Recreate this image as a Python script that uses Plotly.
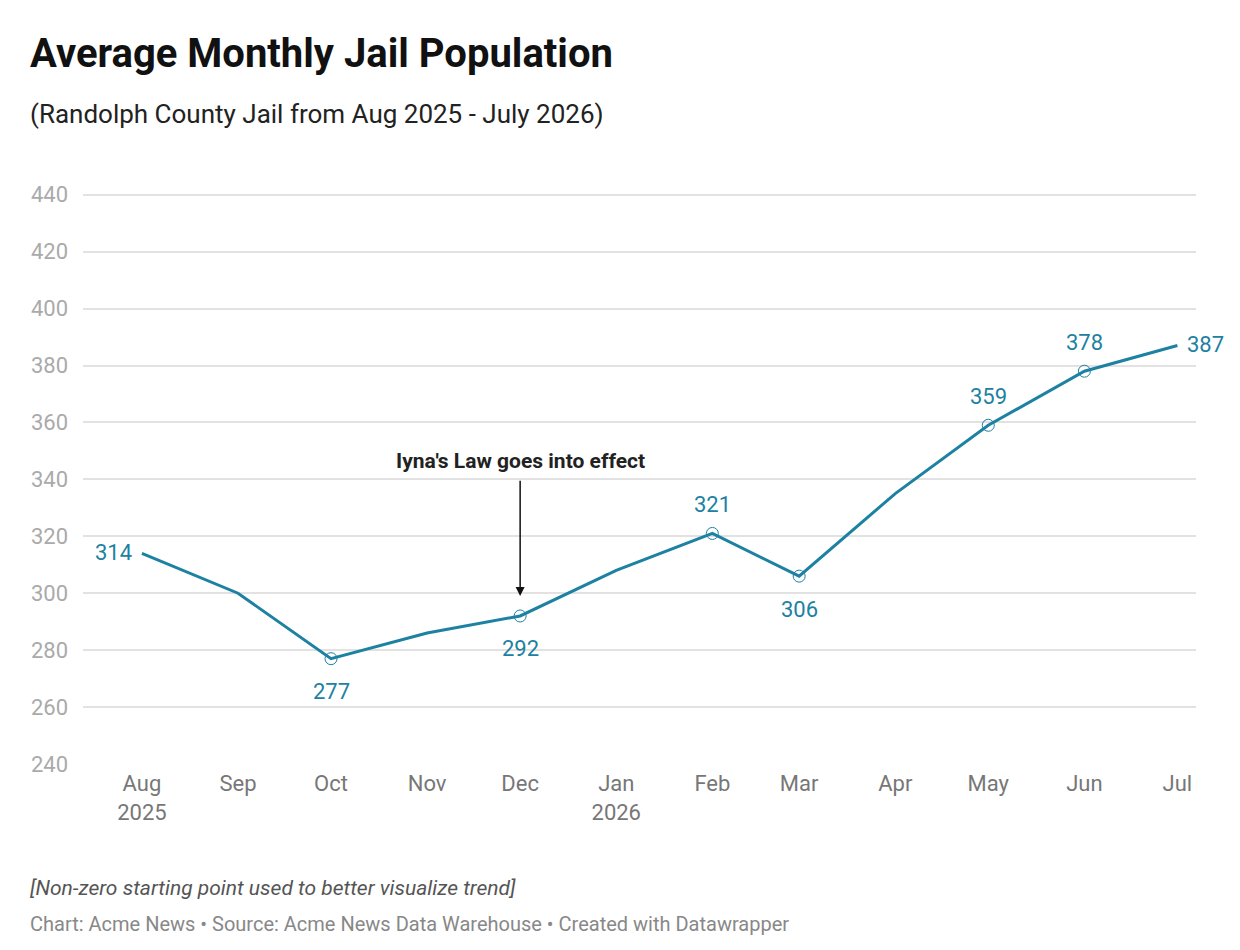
import plotly.graph_objects as go

months = ["2025-08-01","2025-09-01","2025-10-01","2025-11-01","2025-12-01","2026-01-01",
          "2026-02-01","2026-03-01","2026-04-01","2026-05-01","2026-06-01","2026-07-01"]
values = [314, 300, 277, 286, 292, 308, 321, 306, 335, 359, 378, 387]
tick_text = ["Aug<br>2025","Sep","Oct","Nov","Dec","Jan<br>2026","Feb","Mar","Apr","May","Jun","Jul"]
marked = [2, 4, 6, 7, 9, 10]
label_pos = {0: "left", 2: "below", 4: "below", 6: "above", 7: "below", 9: "above", 10: "above", 11: "right"}
color = "#1d81a2"

fig = go.Figure()
fig.add_trace(go.Scatter(x=months, y=values, mode="lines", line=dict(color=color, width=3),
                         hoverinfo="skip", showlegend=False, cliponaxis=False))
fig.add_trace(go.Scatter(x=[months[i] for i in marked], y=[values[i] for i in marked],
                         mode="markers", marker=dict(symbol="circle-open", size=12, color=color, line=dict(width=1)),
                         showlegend=False, cliponaxis=False))
for i, p in label_pos.items():
    kw = dict(xanchor="center", yanchor="middle", xshift=0, yshift=0)
    if p == "left": kw.update(xanchor="right", xshift=-8, yshift=1)
    if p == "right": kw.update(xanchor="left", xshift=8, yshift=1)
    if p == "below": kw.update(yshift=-33)
    if p == "above": kw.update(yshift=29)
    fig.add_annotation(x=months[i], y=values[i], xref="x", yref="y", showarrow=False, text=str(values[i]),
                       font=dict(size=22, color=color, family="Roboto"), **kw)

fig.add_annotation(x="2025-12-01", y=299, ax="2025-12-01", ay=340, axref="x", ayref="y",
                   xref="x", yref="y", showarrow=True, arrowhead=2, arrowsize=1.2, arrowwidth=1.5,
                   arrowcolor="#111", text="")
fig.add_annotation(x="2025-12-01", y=341.5, xref="x", yref="y", showarrow=False, yanchor="bottom",
                   text="<b>Iyna's Law goes into effect</b>", font=dict(size=21, color="#222", family="Roboto"))

L, R, T, B = 75, 52, 185, 194
fig.update_layout(
    width=1240, height=950, plot_bgcolor="white", paper_bgcolor="white",
    margin=dict(l=L, r=R, t=T, b=B, autoexpand=False),
    font=dict(family="Roboto", color="#888"),
    xaxis=dict(type="date", range=["2025-07-13","2026-07-07"], tickvals=months, ticktext=tick_text,
               tickfont=dict(size=22, color="#777"), showgrid=False, zeroline=False, ticks="", ticklabelstandoff=4),
    yaxis=dict(range=[240, 440.6], dtick=20, tickfont=dict(size=22, color="#aaa"), gridcolor="#e2e2e2",
               gridwidth=1.5, zeroline=False, ticks="", ticklabelstandoff=14),
)
pw, ph = 1240 - L - R, 950 - T - B
def pap(xpx, ypx):
    return (xpx - L) / pw, (950 - B - ypx) / ph
for xpx, ypx, t, size, col in [
    (20, 46, "<b>Average Monthly Jail Population</b>", 40, "#111"),
    (20, 106, "(Randolph County Jail from Aug 2025 - July 2026)", 26, "#222"),
    (20, 880, "<i>[Non-zero starting point used to better visualize trend]</i>", 21, "#555"),
    (20, 916, "Chart: Acme News • Source: Acme News Data Warehouse • Created with Datawrapper", 20, "#888"),
]:
    px, py = pap(xpx, ypx)
    fig.add_annotation(x=px, y=py, xref="paper", yref="paper", xanchor="left", yanchor="middle",
                       showarrow=False, text=t, font=dict(size=size, color=col, family="Roboto"))
fig.write_html("out.html")
